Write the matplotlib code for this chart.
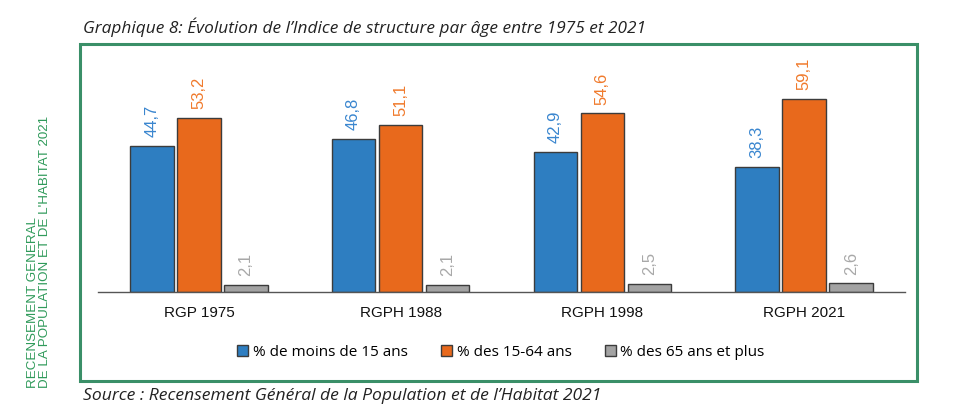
import matplotlib
matplotlib.use("Agg")
import matplotlib.pyplot as plt
from matplotlib.patches import Rectangle
import numpy as np

categories = ["RGP 1975", "RGPH 1988", "RGPH 1998", "RGPH 2021"]
series_names = ["% de moins de 15 ans", "% des 15-64 ans", "% des 65 ans et plus"]
moins15 = [44.7, 46.8, 42.9, 38.3]
age15_64 = [53.2, 51.1, 54.6, 59.1]
plus65 = [2.1, 2.1, 2.5, 2.6]

W, H = 955, 415
fig = plt.figure(figsize=(W / 100, H / 100), dpi=100)

def fx(px):
    return px / W

def fy(py):
    return 1 - py / H

# frame
frame = Rectangle((fx(80), fy(381)), fx(917) - fx(80), fy(44) - fy(381),
                  transform=fig.transFigure, fill=False, edgecolor="#3a8f68", linewidth=2.2)
fig.patches.append(frame)

fig.text(fx(83), fy(27), "Graphique 8: Évolution de l’Indice de structure par âge entre 1975 et 2021",
         fontsize=12.4, style="italic", family="Open Sans", color="#222222", va="center", ha="left")
fig.text(fx(83), fy(396), "Source : Recensement Général de la Population et de l’Habitat 2021",
         fontsize=12.6, style="italic", family="Open Sans", color="#222222", va="center", ha="left")
fig.text(fx(39), fy(388), "RECENSEMENT GENERAL\nDE LA POPULATION ET DE L'HABITAT 2021",
         rotation=90, fontsize=9.6, family="Liberation Sans", color="#2f9a5a",
         va="bottom", ha="center", multialignment="left", linespacing=1.0)

ax = fig.add_axes([fx(98), fy(292), fx(905) - fx(98), fy(63) - fy(292)])
x = np.arange(len(categories))
w = 0.215
off = 0.233
colors = ["#2e7ec1", "#e8691c", "#a3a3a3"]
lab_colors = ["#3a86cf", "#f07a2c", "#a8a8a8"]
data = [moins15, age15_64, plus65]
for i, (vals, c, lc, name) in enumerate(zip(data, colors, lab_colors, series_names)):
    bars = ax.bar(x + (i - 1) * off, vals, w, color=c, edgecolor="#3c3c3c", linewidth=1.0, label=name)
    for b, v in zip(bars, vals):
        ax.text(b.get_x() + b.get_width() / 2, v + 2.7, f"{v:.1f}".replace(".", ","),
                rotation=90, ha="center", va="bottom", color=lc, fontsize=12,
                family="Liberation Sans")

ax.set_xlim(-0.5, 3.5)
ax.set_ylim(0, 70)
for s in ["top", "right", "left"]:
    ax.spines[s].set_visible(False)
ax.spines["bottom"].set_color("#555555")
ax.spines["bottom"].set_linewidth(1.0)
ax.set_yticks([])
ax.set_xticks(x)
ax.set_xticklabels(categories, fontsize=11, family="Liberation Sans", color="#111111")
ax.tick_params(axis="x", length=0, pad=10)
ax.patch.set_alpha(0)

leg = fig.legend(loc="center", bbox_to_anchor=(fx(501), fy(352)), ncol=3, frameon=False,
                 prop={"family": "Open Sans", "size": 11}, handlelength=0.7, handleheight=0.7,
                 handletextpad=0.3, columnspacing=2.2)

fig.savefig("out.png", dpi=100)
